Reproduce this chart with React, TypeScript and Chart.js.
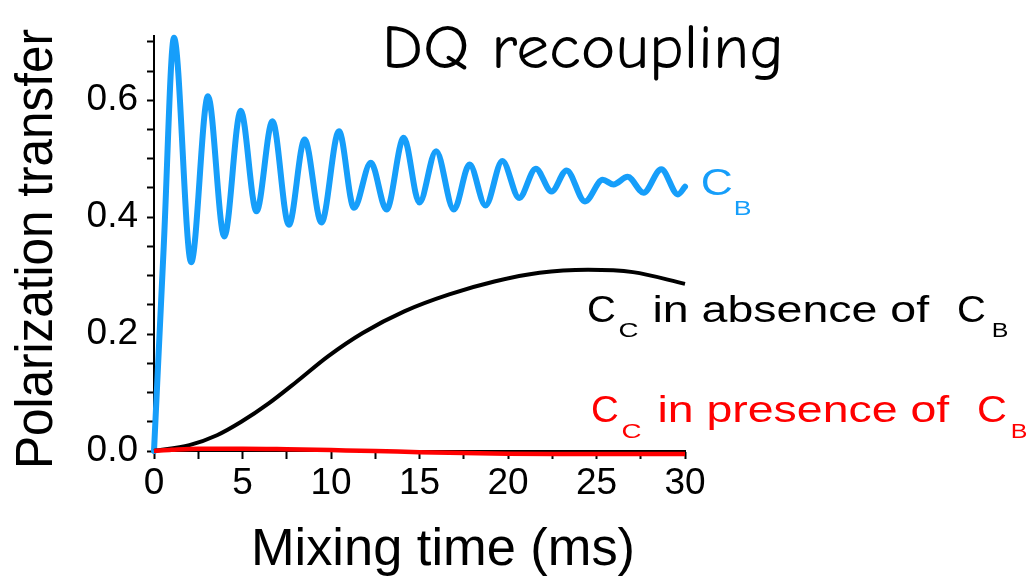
import React, { useEffect, useRef } from "react";
import { Chart, registerables } from "chart.js";

Chart.register(...registerables);

// ---- data ----
const BLUE_X = [0, 0.55, 1.13, 2.1, 3.05, 3.97, 4.9, 5.79, 6.69, 7.62, 8.51, 9.46, 10.45, 11.3, 12.25, 13.14, 14.11, 14.99, 15.94, 16.94, 17.83, 18.73, 19.68, 20.63, 21.57, 22.46, 23.31, 24.35, 25.35, 25.96, 26.76, 27.66, 28.66, 29.6, 30];
const BLUE_Y = [0, 0.35, 0.707, 0.323, 0.607, 0.367, 0.582, 0.41, 0.564, 0.387, 0.533, 0.391, 0.547, 0.416, 0.493, 0.413, 0.536, 0.425, 0.513, 0.413, 0.49, 0.42, 0.496, 0.433, 0.483, 0.444, 0.48, 0.427, 0.464, 0.456, 0.469, 0.442, 0.482, 0.439, 0.452];

const BLACK_X = [0, 2, 3.56, 4.93, 6.5, 8.07, 9.83, 11.79, 14.14, 16.68, 19.23, 21.78, 24.52, 27.06, 30];
const BLACK_Y = [0, 0.01, 0.027, 0.05, 0.082, 0.119, 0.162, 0.202, 0.239, 0.268, 0.29, 0.305, 0.31, 0.306, 0.286];

const RED_X = [0, 1, 2.5, 5, 7.5, 10, 12.5, 15, 17.5, 20, 22.5, 25, 27.5, 30];
const RED_Y = [0, 0.002, 0.004, 0.004, 0.003, 0.0015, 0, -0.002, -0.0035, -0.0045, -0.005, -0.005, -0.005, -0.005];

const X_TICKS = [0, 2.5, 5, 7.5, 10, 12.5, 15, 17.5, 20, 22.5, 25, 27.5, 30];
const X_LABELED = [0, 5, 10, 15, 20, 25, 30];
const Y_TICKS = [0, 0.05, 0.1, 0.15, 0.2, 0.25, 0.3, 0.35, 0.4, 0.45, 0.5, 0.55, 0.6, 0.65, 0.7];
const Y_LABELED = [0, 0.2, 0.4, 0.6];

const TITLE = "DQ recoupling";
const X_TITLE = "Mixing time (ms)";
const Y_TITLE = "Polarization transfer";

const BLUE = "rgb(22,158,250)";
const RED = "rgb(255,0,0)";
const SANS = "'Liberation Sans', Arial, sans-serif";
const HAND = "'Comic Sans MS', 'Comic Neue', 'Open Sans', sans-serif";

const pts = (xs: number[], ys: number[]) => xs.map((x, i) => ({ x, y: ys[i] }));

function seg(
  ctx: CanvasRenderingContext2D,
  text: string,
  x: number,
  y: number,
  size: number,
  family: string,
  color: string,
  width?: number,
  rotate?: number
) {
  ctx.save();
  ctx.font = `${size}px ${family}`;
  ctx.fillStyle = color;
  ctx.textAlign = "left";
  ctx.textBaseline = "alphabetic";
  const m = ctx.measureText(text);
  const left = m.actualBoundingBoxLeft;
  const gw = m.actualBoundingBoxLeft + m.actualBoundingBoxRight;
  const sx = width ? width / gw : 1;
  ctx.translate(x, y);
  if (rotate) ctx.rotate(rotate);
  ctx.scale(sx, 1);
  ctx.fillText(text, left, 0);
  ctx.restore();
}

const textPlugin = {
  id: "textPlugin",
  afterDraw(chart: any) {
    const ctx: CanvasRenderingContext2D = chart.ctx;
    // title
    seg(ctx, TITLE, 387, 68, 62, HAND, "#000", 393);
    // axis titles
    seg(ctx, X_TITLE, 255, 565, 51, SANS, "#000", 377);
    seg(ctx, Y_TITLE, 52, 465, 51, SANS, "#000", 436, -Math.PI / 2);
    // C_B (blue)
    seg(ctx, "C", 702, 195, 37, SANS, BLUE, 30);
    seg(ctx, "B", 735, 215, 20, SANS, BLUE, 16);
    // C_C in absence of C_B (black)
    seg(ctx, "C", 588, 322, 37, SANS, "#000", 27);
    seg(ctx, "C", 620, 337, 20, SANS, "#000", 18);
    seg(ctx, "in absence of", 655, 322, 37, SANS, "#000", 275);
    seg(ctx, "C", 958, 322, 37, SANS, "#000", 27);
    seg(ctx, "B", 993, 337, 20, SANS, "#000", 15);
    // C_C in presence of C_B (red)
    seg(ctx, "C", 592, 422, 37, SANS, RED, 26);
    seg(ctx, "C", 623, 438, 20, SANS, RED, 18);
    seg(ctx, "in presence of", 660, 422, 37, SANS, RED, 290);
    seg(ctx, "C", 978, 422, 37, SANS, RED, 28);
    seg(ctx, "B", 1012, 438, 20, SANS, RED, 15);
  },
};

export default function App() {
  const ref = useRef<HTMLCanvasElement | null>(null);

  useEffect(() => {
    if (!ref.current) return;
    const isIn = (arr: number[], v: number) => arr.some((a) => Math.abs(a - v) < 1e-6);
    const chart = new Chart(ref.current, {
      type: "line",
      data: {
        datasets: [
          {
            data: pts(RED_X, RED_Y),
            borderColor: RED,
            borderWidth: 4.5,
            pointRadius: 0,
            cubicInterpolationMode: "monotone",
            clip: false as any,
          },
          {
            data: pts(BLACK_X, BLACK_Y),
            borderColor: "#000",
            borderWidth: 4,
            pointRadius: 0,
            cubicInterpolationMode: "monotone",
            clip: false as any,
          },
          {
            data: pts(BLUE_X, BLUE_Y),
            borderColor: BLUE,
            borderWidth: 6,
            pointRadius: 0,
            cubicInterpolationMode: "monotone",
            clip: false as any,
            borderCapStyle: "round",
            borderJoinStyle: "round",
          },
        ],
      },
      options: {
        responsive: false,
        maintainAspectRatio: false,
        animation: false,
        devicePixelRatio: 1,
        layout: { padding: { left: 0, right: 350, top: 36, bottom: 0 } },
        plugins: { legend: { display: false }, tooltip: { enabled: false }, title: { display: false } },
        scales: {
          x: {
            type: "linear",
            min: 0,
            max: 30,
            afterBuildTicks: (s: any) => {
              s.ticks = X_TICKS.map((v) => ({ value: v }));
            },
            afterFit: (s: any) => {
              s.height = 130;
            },
            ticks: {
              autoSkip: false,
              maxRotation: 0,
              padding: 3,
              color: "#000",
              font: { family: SANS, size: 37 },
              callback: (v: any) => (isIn(X_LABELED, Number(v)) ? String(v) : ""),
            },
            grid: { display: true, drawOnChartArea: false, drawTicks: true, tickLength: 8, tickWidth: 2, tickColor: "#000" },
            border: { display: true, color: "#000", width: 2 },
          },
          y: {
            type: "linear",
            min: 0,
            max: 0.71,
            afterBuildTicks: (s: any) => {
              s.ticks = Y_TICKS.map((v) => ({ value: v }));
            },
            afterFit: (s: any) => {
              s.width = 154;
            },
            ticks: {
              autoSkip: false,
              padding: 9,
              color: "#000",
              font: { family: SANS, size: 37 },
              callback: (v: any) => (isIn(Y_LABELED, Number(v)) ? Number(v).toFixed(1) : ""),
            },
            grid: { display: true, drawOnChartArea: false, drawTicks: true, tickLength: 7, tickWidth: 2, tickColor: "#000" },
            border: { display: true, color: "#000", width: 2 },
          },
        },
      },
      plugins: [textPlugin],
    });
    return () => chart.destroy();
  }, []);

  return (
    <div style={{ position: "absolute", left: 0, top: 0, width: 1035, height: 581, background: "#fff" }}>
      <canvas ref={ref} width={1035} height={581} style={{ display: "block", width: 1035, height: 581 }} />
    </div>
  );
}
